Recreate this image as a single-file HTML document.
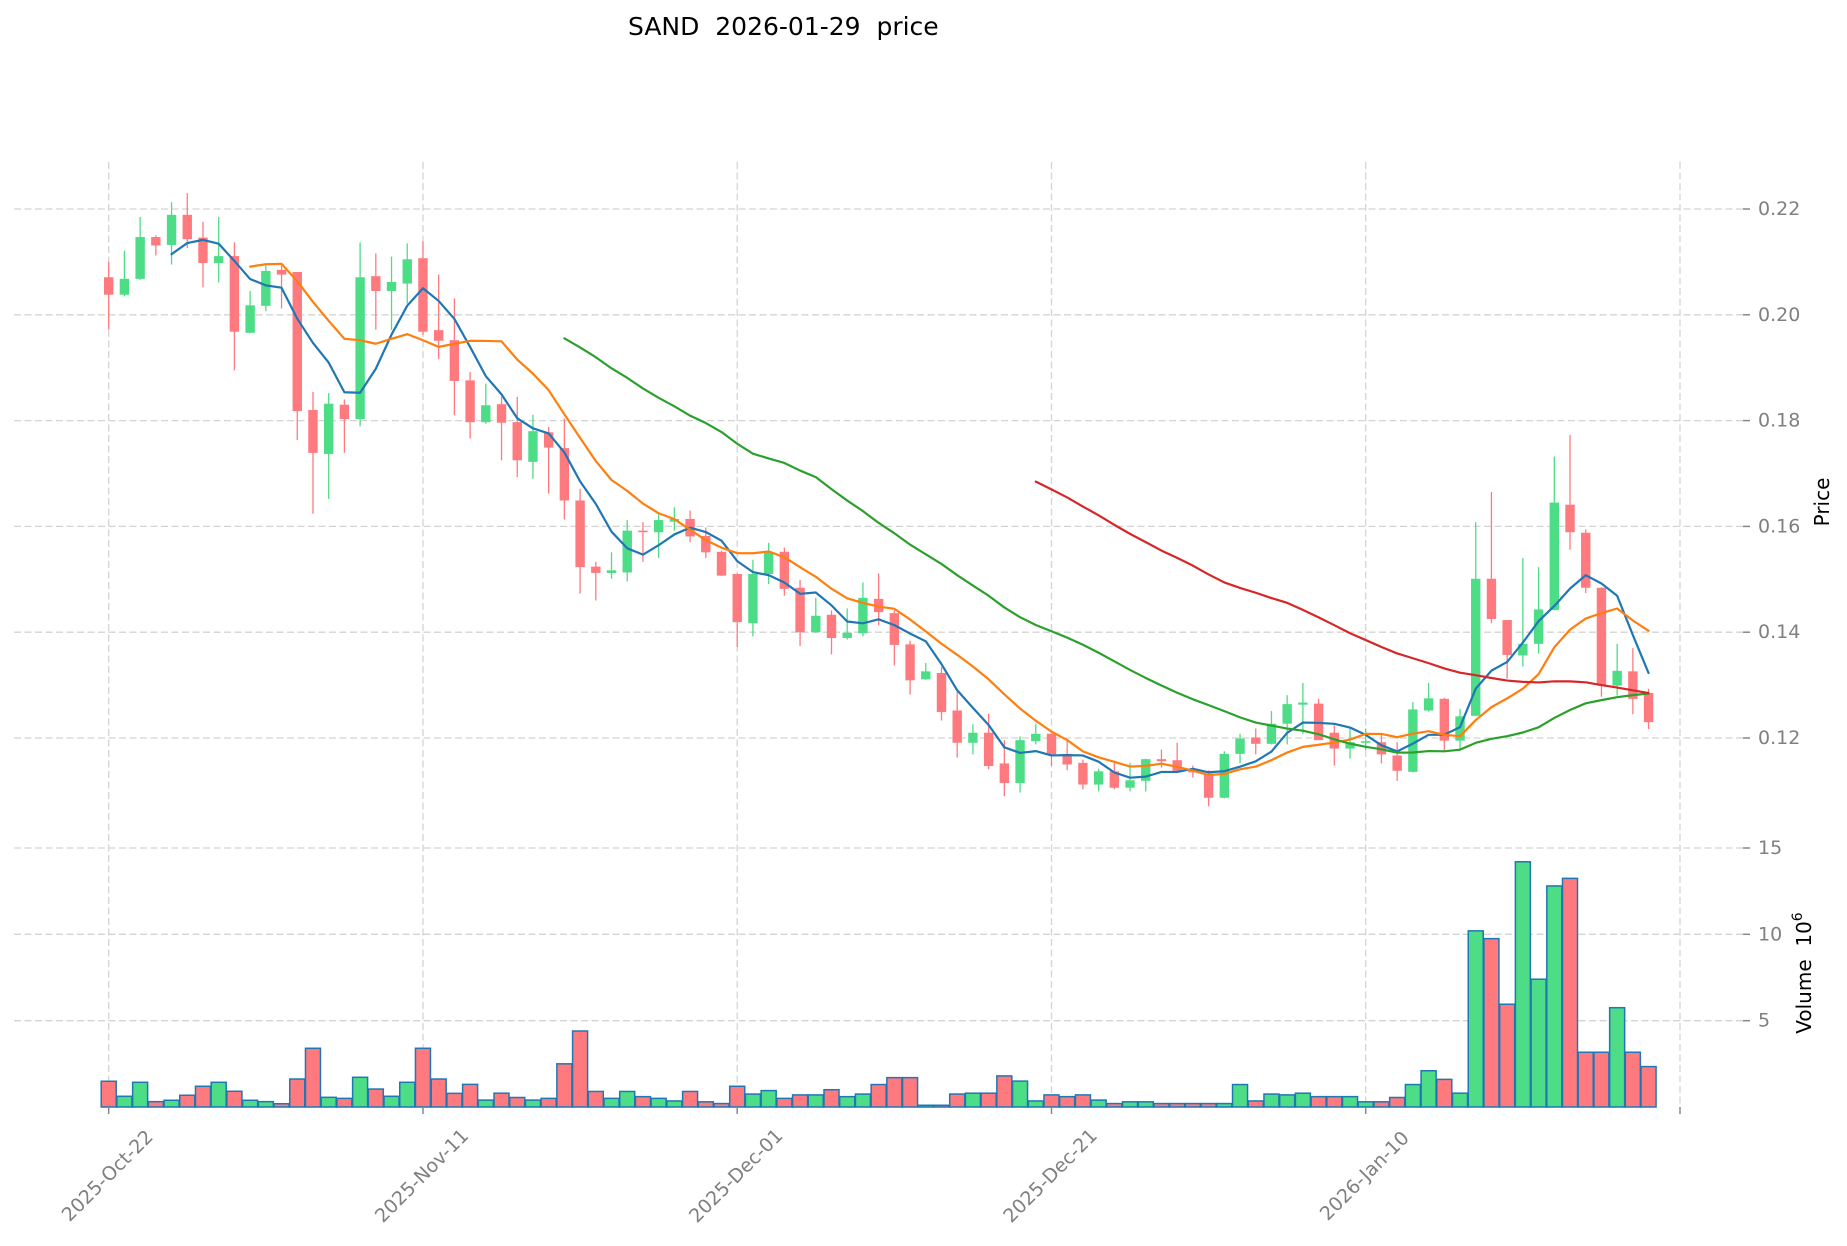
<!DOCTYPE html>
<html><head><meta charset="utf-8">
<style>
html,body{margin:0;padding:0;background:#fff;}
svg{display:block;}
text{font-family:"DejaVu Sans","Liberation Sans",sans-serif;}
</style></head>
<body>
<svg id="c" width="1847" height="1246" viewBox="0 0 1847 1246" xmlns="http://www.w3.org/2000/svg">
<rect width="1847" height="1246" fill="#fff"/>
<g stroke="#d4d4d4" stroke-width="1.3" stroke-dasharray="7,3.5" fill="none">
  <line x1="14" y1="209" x2="1743" y2="209"/>
  <line x1="14" y1="314.8" x2="1743" y2="314.8"/>
  <line x1="14" y1="420.6" x2="1743" y2="420.6"/>
  <line x1="14" y1="526.4" x2="1743" y2="526.4"/>
  <line x1="14" y1="632.2" x2="1743" y2="632.2"/>
  <line x1="14" y1="738" x2="1743" y2="738"/>
  <line x1="14" y1="848" x2="1743" y2="848"/>
  <line x1="14" y1="934.3" x2="1743" y2="934.3"/>
  <line x1="14" y1="1020.7" x2="1743" y2="1020.7"/>
  <line x1="108.7" y1="162" x2="108.7" y2="1107"/>
  <line x1="423" y1="162" x2="423" y2="1107"/>
  <line x1="737.2" y1="162" x2="737.2" y2="1107"/>
  <line x1="1051.5" y1="162" x2="1051.5" y2="1107"/>
  <line x1="1365.7" y1="162" x2="1365.7" y2="1107"/>
  <line x1="1680" y1="162" x2="1680" y2="1107"/>
</g>
<g id="vol"></g>
<g id="cdl"></g>
<g id="ma" fill="none" stroke-width="2.2" stroke-linejoin="round" stroke-linecap="round"></g>
<g stroke="#888" stroke-width="1.5">
  <line x1="1743" y1="209" x2="1750" y2="209"/>
  <line x1="1743" y1="314.8" x2="1750" y2="314.8"/>
  <line x1="1743" y1="420.6" x2="1750" y2="420.6"/>
  <line x1="1743" y1="526.4" x2="1750" y2="526.4"/>
  <line x1="1743" y1="632.2" x2="1750" y2="632.2"/>
  <line x1="1743" y1="738" x2="1750" y2="738"/>
  <line x1="1743" y1="848" x2="1750" y2="848"/>
  <line x1="1743" y1="934.3" x2="1750" y2="934.3"/>
  <line x1="1743" y1="1020.7" x2="1750" y2="1020.7"/>
  <line x1="108.7" y1="1107" x2="108.7" y2="1114"/>
  <line x1="423" y1="1107" x2="423" y2="1114"/>
  <line x1="737.2" y1="1107" x2="737.2" y2="1114"/>
  <line x1="1051.5" y1="1107" x2="1051.5" y2="1114"/>
  <line x1="1365.7" y1="1107" x2="1365.7" y2="1114"/>
  <line x1="1680" y1="1107" x2="1680" y2="1114"/>
</g>
<g fill="#808080" font-size="19" dominant-baseline="central">
  <text x="1758" y="209">0.22</text>
  <text x="1758" y="314.8">0.20</text>
  <text x="1758" y="420.6">0.18</text>
  <text x="1758" y="526.4">0.16</text>
  <text x="1758" y="632.2">0.14</text>
  <text x="1758" y="738">0.12</text>
  <text x="1758" y="848">15</text>
  <text x="1758" y="934.3">10</text>
  <text x="1758" y="1020.7">5</text>
</g>
<g fill="#808080" font-size="19" text-anchor="middle" dominant-baseline="central">
  <text transform="translate(107.7,1176) rotate(-45)">2025-Oct-22</text>
  <text transform="translate(422,1176) rotate(-45)">2025-Nov-11</text>
  <text transform="translate(736.2,1176) rotate(-45)">2025-Dec-01</text>
  <text transform="translate(1050.5,1176) rotate(-45)">2025-Dec-21</text>
  <text transform="translate(1364.7,1176) rotate(-45)">2026-Jan-10</text>
</g>
<text x="628" y="35" font-size="25" fill="#000" style="white-space:pre">SAND  2026-01-29  price</text>
<text transform="translate(1829,502) rotate(-90)" font-size="20" fill="#000" text-anchor="middle">Price</text>
<text transform="translate(1811,973) rotate(-90)" font-size="20" fill="#000" text-anchor="middle" style="white-space:pre">Volume  10<tspan dy="-9" font-size="14">6</tspan></text>
</svg>
<script>
const D=[
[0.2071,0.2100,0.1972,0.2038],[0.2038,0.2121,0.2035,0.2068],[0.2068,0.2185,0.2066,0.2147],[0.2147,0.2150,0.2112,0.2131],
[0.2132,0.2213,0.2095,0.2189],[0.2189,0.2230,0.2126,0.2143],[0.2146,0.2176,0.2052,0.2098],[0.2098,0.2185,0.2061,0.2111],
[0.2111,0.2137,0.1895,0.1968],[0.1966,0.2045,0.1965,0.2018],[0.2017,0.2093,0.2007,0.2083],[0.2085,0.2093,0.2012,0.2076],
[0.2081,0.2081,0.1763,0.1818],[0.1820,0.1854,0.1624,0.1739],[0.1737,0.1852,0.1652,0.1832],[0.1830,0.1840,0.1739,0.1803],
[0.1803,0.2137,0.1789,0.2071],[0.2073,0.2116,0.1972,0.2045],[0.2045,0.2110,0.1971,0.2062],[0.2059,0.2135,0.2021,0.2105],
[0.2107,0.2139,0.1962,0.1968],[0.1971,0.2076,0.1916,0.1951],[0.1952,0.2031,0.1810,0.1875],[0.1876,0.1892,0.1766,0.1797],
[0.1797,0.1870,0.1794,0.1829],[0.1831,0.1845,0.1725,0.1796],[0.1797,0.1845,0.1693,0.1725],[0.1722,0.1811,0.1690,0.1780],
[0.1778,0.1788,0.1662,0.1749],[0.1748,0.1804,0.1613,0.1649],[0.1649,0.1671,0.1473,0.1523],[0.1524,0.1533,0.1460,0.1512],
[0.1512,0.1551,0.1501,0.1517],[0.1513,0.1612,0.1496,0.1592],[0.1592,0.1608,0.1533,0.1589],[0.1589,0.1625,0.1540,0.1612],
[0.1609,0.1636,0.1592,0.1614],[0.1614,0.1630,0.1570,0.1581],[0.1582,0.1598,0.1540,0.1551],[0.1552,0.1554,0.1506,0.1507],
[0.1510,0.1511,0.1372,0.1419],[0.1417,0.1537,0.1392,0.1510],[0.1510,0.1569,0.1491,0.1552],[0.1552,0.1560,0.1469,0.1482],
[0.1484,0.1499,0.1374,0.1400],[0.1400,0.1465,0.1399,0.1431],[0.1433,0.1441,0.1358,0.1389],[0.1389,0.1445,0.1386,0.1399],
[0.1398,0.1494,0.1392,0.1465],[0.1463,0.1511,0.1413,0.1438],[0.1436,0.1441,0.1337,0.1376],[0.1377,0.1384,0.1282,0.1309],
[0.1311,0.1342,0.1310,0.1326],[0.1323,0.1334,0.1233,0.1249],[0.1252,0.1287,0.1163,0.1191],[0.1191,0.1226,0.1169,0.1210],
[0.1210,0.1246,0.1141,0.1147],[0.1152,0.1196,0.1090,0.1115],[0.1115,0.1203,0.1097,0.1196],[0.1194,0.1227,0.1188,0.1208],
[0.1208,0.1208,0.1147,0.1169],[0.1170,0.1197,0.1139,0.1150],[0.1153,0.1159,0.1103,0.1112],[0.1112,0.1142,0.1099,0.1137],
[0.1137,0.1155,0.1103,0.1106],[0.1106,0.1153,0.1099,0.1120],[0.1119,0.1161,0.1099,0.1160],[0.1160,0.1178,0.1144,0.1156],
[0.1158,0.1191,0.1136,0.1138],[0.1142,0.1148,0.1125,0.1135],[0.1133,0.1139,0.1071,0.1087],[0.1087,0.1175,0.1086,0.1170],
[0.1170,0.1208,0.1152,0.1199],[0.1201,0.1218,0.1169,0.1189],[0.1189,0.1251,0.1188,0.1227],[0.1227,0.1281,0.1188,0.1264],
[0.1263,0.1304,0.1208,0.1267],[0.1265,0.1274,0.1196,0.1196],[0.1210,0.1224,0.1148,0.1180],[0.1180,0.1221,0.1161,0.1192],
[0.1191,0.1218,0.1177,0.1194],[0.1192,0.1208,0.1152,0.1169],[0.1167,0.1192,0.1119,0.1138],[0.1136,0.1268,0.1135,0.1254],
[0.1252,0.1304,0.1250,0.1275],[0.1274,0.1276,0.1176,0.1195],[0.1195,0.1255,0.1176,0.1241],[0.1242,0.1608,0.1241,0.1501],
[0.1501,0.1665,0.1417,0.1425],[0.1423,0.1423,0.1312,0.1357],[0.1356,0.1540,0.1335,0.1378],[0.1378,0.1523,0.1360,0.1443],
[0.1442,0.1732,0.1441,0.1645],[0.1641,0.1773,0.1556,0.1589],[0.1588,0.1594,0.1474,0.1484],[0.1484,0.1485,0.1278,0.1299],
[0.1299,0.1378,0.1280,0.1327],[0.1326,0.1370,0.1245,0.1274],[0.1285,0.1293,0.1217,0.1230]
];
const V=[1.49,0.62,1.43,0.31,0.39,0.68,1.20,1.43,0.91,0.39,0.31,0.19,1.62,3.40,0.56,0.50,1.72,1.04,0.62,1.43,
3.40,1.62,0.79,1.31,0.4,0.8,0.55,0.4,0.5,2.5,4.4,0.9,0.5,0.9,0.6,0.5,0.35,0.9,0.3,0.2,
1.2,0.75,0.95,0.5,0.7,0.7,1.0,0.6,0.75,1.3,1.7,1.7,0.1,0.1,0.75,0.8,0.8,1.8,1.5,0.35,
0.7,0.6,0.7,0.4,0.2,0.3,0.3,0.2,0.2,0.2,0.2,0.2,1.3,0.35,0.75,0.7,0.8,0.6,0.6,0.6,
0.3,0.3,0.55,1.3,2.1,1.6,0.8,10.2,9.75,5.95,14.2,7.4,12.8,13.24,3.17,3.17,5.75,3.17,2.34];
const G="#4ddd87",R="#ff7a7f";
const X=i=>108.7+15.713*i, Y=p=>209+(0.22-p)*5290, VY=v=>1107-v*17.27;
let vs='',cs='';
D.forEach((d,i)=>{
  const [o,h,l,c]=d; const col=c>=o?G:R; const x=X(i);
  const v=V[i];
  vs+=`<rect x="${(x-7.5).toFixed(2)}" y="${VY(v).toFixed(2)}" width="15" height="${(v*17.27).toFixed(2)}" fill="${col}" stroke="#1f77b4" stroke-width="1.5"/>`;
  cs+=`<line x1="${x.toFixed(2)}" x2="${x.toFixed(2)}" y1="${Y(h).toFixed(2)}" y2="${Y(l).toFixed(2)}" stroke="${col}" stroke-width="1.3"/>`;
  const top=Y(Math.max(o,c)); const hh=Math.max(1.2,Math.abs(o-c)*5290);
  cs+=`<rect x="${(x-4.7).toFixed(2)}" y="${top.toFixed(2)}" width="9.4" height="${hh.toFixed(2)}" fill="${col}"/>`;
});
document.getElementById('vol').innerHTML=vs;
document.getElementById('cdl').innerHTML=cs;
let ms='';
[[5,"#1f77b4"],[10,"#ff7f0e"],[30,"#2ca02c"],[60,"#d62728"]].forEach(([n,col])=>{
  let pts=[];
  for(let i=n-1;i<D.length;i++){let s=0;for(let j=i-n+1;j<=i;j++)s+=D[j][3];pts.push(X(i).toFixed(2)+","+Y(s/n).toFixed(2));}
  ms+=`<polyline points="${pts.join(' ')}" stroke="${col}"/>`;
});
document.getElementById('ma').innerHTML=ms;
</script>
</body></html>
